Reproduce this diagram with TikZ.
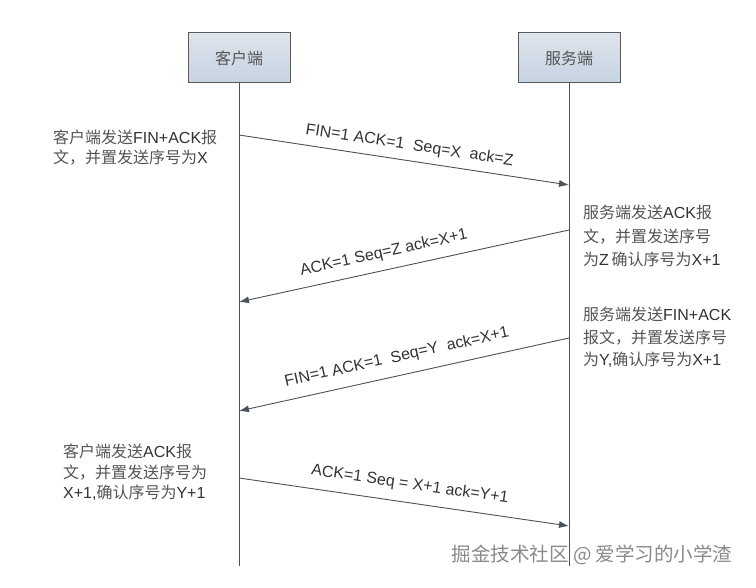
\documentclass[tikz,border=0pt]{standalone}
\usepackage{fontspec}
\setmainfont{Liberation Sans}
\newfontfamily\cjk{Noto Sans CJK SC}
\usetikzlibrary{arrows.meta}
\definecolor{cjkgray}{HTML}{555555}
\definecolor{txt}{HTML}{333333}
\definecolor{linecol}{HTML}{4A525C}
\definecolor{boxtop}{HTML}{DEE4EB}
\definecolor{boxbot}{HTML}{C6D3E3}
\definecolor{boxline}{HTML}{5A5A5A}
\definecolor{wmgray}{HTML}{8A8A8A}
\newcommand{\zh}[1]{{\cjk\color{cjkgray}#1}}
\begin{document}
\begin{tikzpicture}[x=1pt,y=-1pt,
  actor/.style={draw=boxline, line width=1pt, top color=boxtop, bottom color=boxbot,
    minimum width=102pt, minimum height=50pt, inner sep=0pt,
    font=\fontsize{16}{18}\selectfont},
  life/.style={draw=linecol, line width=0.9pt},
  msg/.style={draw=linecol, line width=0.9pt, -{Latex[length=10pt,width=7pt]}},
  lbl/.style={sloped, text=txt, inner sep=0pt, font=\fontsize{16}{18}\selectfont},
  note/.style={anchor=north west, align=left, inner sep=0pt, text=txt},
]
\useasboundingbox (0,0) rectangle (756,588);
\fill[white] (0,0) rectangle (756,588);

\node[actor] (client) at (239,58) {\zh{客户端}};
\node[actor] (server) at (569,58) {\zh{服务端}};

\coordinate (cend) at (239,566);
\coordinate (send) at (569,566);
\draw[life] (client) -- (cend);
\draw[life] (server) -- (send);

\coordinate (c1) at (239,135); \coordinate (s1) at (569,185);
\coordinate (s2) at (569,230); \coordinate (c2) at (239,302);
\coordinate (s3) at (569,338); \coordinate (c3) at (239,411);
\coordinate (c4) at (239,478); \coordinate (s4) at (569,526);

\draw[msg] (c1) -- node[lbl, above=7pt, pos=0.51] (l1) {FIN=1 ACK=1\ \ Seq=X\ \ ack=Z} (s1);
\draw[msg] (s2) -- node[lbl, above=9pt, pos=0.55] (l2) {ACK=1 Seq=Z ack=X+1} (c2);
\draw[msg] (s3) -- node[lbl, above=10pt, pos=0.51] (l3) {FIN=1 ACK=1\ \ Seq=Y\ \ ack=X+1} (c3);
\draw[msg] (c4) -- node[lbl, above=10pt, pos=0.51] (l4) {ACK=1 Seq = X+1 ack=Y+1} (s4);

\node[note, font=\fontsize{16}{20}\selectfont] (n1) at (53,130)
  {\zh{客户端发送}FIN+ACK\zh{报}\\\zh{文，并置发送序号为}X};
\node[note, font=\fontsize{16}{23.5}\selectfont] (n2) at (583,205)
  {\zh{服务端发送}ACK\zh{报}\\\zh{文，并置发送序号}\\\zh{为}Z\,\zh{确认序号为}X+1};
\node[note, font=\fontsize{16}{22.5}\selectfont] (n3) at (583,307)
  {\zh{服务端发送}FIN+ACK\\\zh{报文，并置发送序号}\\\zh{为}Y,\zh{确认序号为}X+1};
\node[note, font=\fontsize{16}{20.5}\selectfont] (n4) at (63,444)
  {\zh{客户端发送}ACK\zh{报}\\\zh{文，并置发送序号为}\\X+1,\zh{确认序号为}Y+1};

\node[text=wmgray, inner sep=0pt, font=\fontsize{19.5}{22}\selectfont\cjk] (wm) at (592,555)
  {掘金技术社区 @ 爱学习的小学渣};
\end{tikzpicture}
\end{document}
